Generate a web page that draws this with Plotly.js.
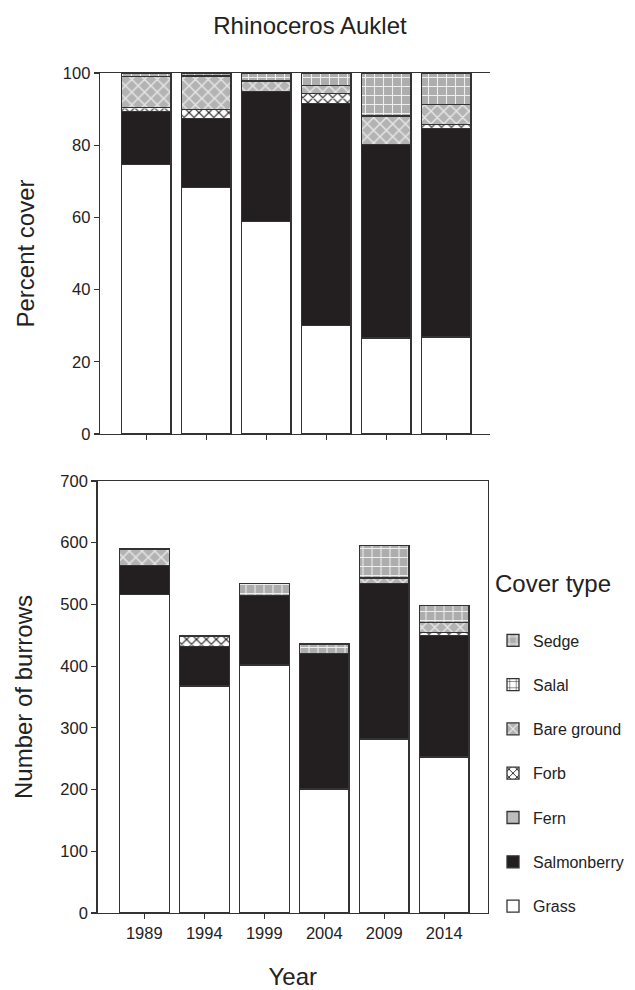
<!DOCTYPE html>
<html>
<head>
<meta charset="utf-8">
<script src="https://cdn.plot.ly/plotly-3.0.1.min.js"></script>
<style>html,body{margin:0;padding:0;background:#fff;}#chart{width:635px;height:990px;}</style>
</head>
<body>
<div id="chart"></div>
<script>
// ---- data ----
var years = ["1989", "1994", "1999", "2004", "2009", "2014"];
var coverTypes = ["Grass", "Salmonberry", "Fern", "Forb", "Bare ground", "Salal", "Sedge"];

// Percent cover (top panel)
var pctGrass       = [74.7, 68.2, 58.8, 30.0, 26.6, 26.9];
var pctSalmonberry = [14.6, 19.2, 36.0, 61.6, 53.6, 57.8];
var pctFern        = [0, 0, 0, 0, 0, 0];
var pctForb        = [1.1, 2.5, 0, 2.8, 0, 1.1];
var pctBare        = [8.6, 9.3, 2.8, 2.1, 7.7, 5.5];
var pctSalal       = [0, 0, 0.3, 0, 0.4, 0];
var pctSedge       = [1.0, 0.8, 2.1, 3.5, 11.7, 8.7];

// Number of burrows (bottom panel)
var burGrass       = [516, 368, 402, 201, 282, 253];
var burSalmonberry = [47, 64, 112, 219, 252, 197];
var burFern        = [0, 0, 0, 0, 0, 0];
var burForb        = [0, 17, 0, 0, 0, 4];
var burBare        = [27, 0, 0, 0, 9, 17];
var burSalal       = [0, 0, 0, 0, 0, 0];
var burSedge       = [0, 0, 20, 16, 53, 27];

var pctSeries = [pctGrass, pctSalmonberry, pctFern, pctForb, pctBare, pctSalal, pctSedge];
var burSeries = [burGrass, burSalmonberry, burFern, burForb, burBare, burSalal, burSedge];

// ---- styles ----
var styles = {
  "Grass":       {color: "#ffffff"},
  "Salmonberry": {color: "#231f20"},
  "Fern":        {color: "#bdbdbd"},
  "Forb":        {color: "#ffffff", pattern: {shape: "x", bgcolor: "#ffffff", fgcolor: "#222222", size: 7, solidity: 0.3, fillmode: "replace"}},
  "Bare ground": {color: "#b3b3b3", pattern: {shape: "x", bgcolor: "#b3b3b3", fgcolor: "#e6e6e6", size: 9, solidity: 0.3, fillmode: "replace"}},
  "Salal":       {color: "#ffffff", pattern: {shape: "+", bgcolor: "#ffffff", fgcolor: "#222222", size: 8, solidity: 0.15, fillmode: "replace"}},
  "Sedge":       {color: "#adadad", pattern: {shape: "+", bgcolor: "#adadad", fgcolor: "#eeeeee", size: 9, solidity: 0.22, fillmode: "replace"}}
};

var traces = [];
coverTypes.forEach(function (name, i) {
  var st = styles[name];
  var mk = {color: st.color, line: {color: "#333333", width: 1.3}};
  if (st.pattern) mk.pattern = st.pattern;
  traces.push({
    type: "bar", x: years, y: pctSeries[i], name: name,
    xaxis: "x", yaxis: "y", width: 0.83,
    marker: mk, legendgroup: name, showlegend: false, hoverinfo: "name+y"
  });
  traces.push({
    type: "bar", x: years, y: burSeries[i], name: name,
    xaxis: "x2", yaxis: "y2", width: 0.83,
    marker: JSON.parse(JSON.stringify(mk)), legendgroup: name, showlegend: true,
    legendrank: 100 - i, hoverinfo: "name+y"
  });
});

var font = "Liberation Sans, Arial, Helvetica, sans-serif";
var W = 635, H = 990;
function px(a){return a / W;}
function py(a){return 1 - a / H;}

var axisCommon = {
  showgrid: false, zeroline: false, showline: true, linecolor: "#333333", linewidth: 1.3,
  ticks: "outside", ticklen: 5, tickcolor: "#333333", tickwidth: 1.2,
  tickfont: {family: font, size: 16.5, color: "#222222"}
};

var layout = {
  width: W, height: H,
  margin: {l: 0, r: 0, t: 0, b: 0},
  paper_bgcolor: "#ffffff", plot_bgcolor: "#ffffff",
  barmode: "stack", bargap: 0.17,
  font: {family: font, color: "#222222"},
  title: {text: "Rhinoceros Auklet", x: 310 / W, xanchor: "center", y: py(26), yanchor: "middle",
          font: {family: font, size: 24, color: "#222222"}},
  xaxis: Object.assign({}, axisCommon, {
    domain: [px(100), px(490)], anchor: "y", type: "category",
    range: [-0.77, 5.73], showticklabels: false, mirror: true
  }),
  yaxis: Object.assign({}, axisCommon, {
    domain: [py(434), py(73)], anchor: "x", range: [0, 100], tickvals: [0, 20, 40, 60, 80, 100],
    title: {text: "Percent cover", font: {family: font, size: 24, color: "#222222"}, standoff: 21}
  }),
  xaxis2: Object.assign({}, axisCommon, {
    domain: [px(97.5), px(488)], anchor: "y2", type: "category",
    range: [-0.78, 5.73], mirror: true,
    title: {text: "Year", font: {family: font, size: 24, color: "#222222"}, standoff: 30}
  }),
  yaxis2: Object.assign({}, axisCommon, {
    domain: [py(913), py(481)], anchor: "x2", range: [0, 700], tickvals: [0, 100, 200, 300, 400, 500, 600, 700],
    mirror: true,
    title: {text: "Number of burrows", font: {family: font, size: 24, color: "#222222"}, standoff: 21}
  }),
  showlegend: true,
  legend: {
    x: px(493), xanchor: "left", y: py(561), yanchor: "top",
    traceorder: "grouped", tracegroupgap: 20.5,
    bgcolor: "rgba(0,0,0,0)",
    font: {family: font, size: 16, color: "#222222"},
    title: {text: "Cover type<br><span style='font-size:3px'> </span>", font: {family: font, size: 24, color: "#222222"}},
    itemwidth: 30
  }
};

Plotly.newPlot("chart", traces, layout, {displayModeBar: false, staticPlot: true});
</script>
</body>
</html>
